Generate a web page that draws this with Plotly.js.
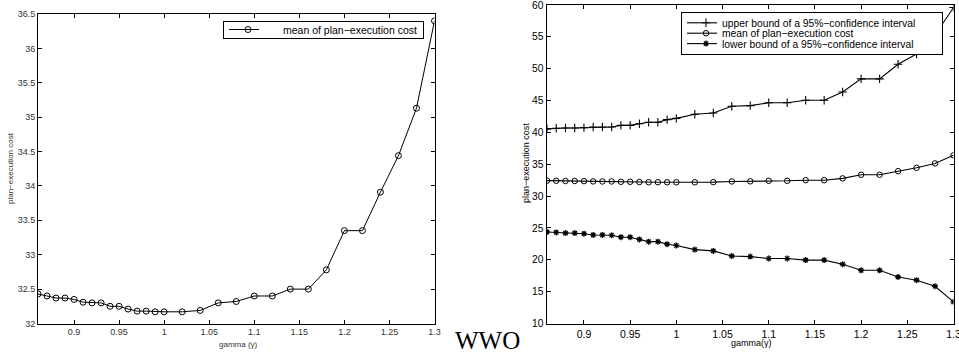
<!DOCTYPE html>
<html>
<head>
<meta charset="utf-8">
<script src="https://cdn.plot.ly/plotly-3.0.1.min.js"></script>
<style>
  html, body { margin: 0; padding: 0; background: #fff; }
  #chart { width: 959px; height: 354px; }
</style>
</head>
<body>
<div id="chart"></div>
<script>
// ---- data ----
const gamma = [0.86, 0.87, 0.88, 0.89, 0.90, 0.91, 0.92, 0.93, 0.94, 0.95, 0.96, 0.97, 0.98, 0.99, 1.00,
               1.02, 1.04, 1.06, 1.08, 1.10, 1.12, 1.14, 1.16, 1.18, 1.20, 1.22, 1.24, 1.26, 1.28, 1.30];
const meanCost = [32.43, 32.40, 32.37, 32.37, 32.35, 32.31, 32.30, 32.30, 32.25, 32.25, 32.21, 32.18, 32.18, 32.17, 32.17,
                  32.17, 32.19, 32.30, 32.32, 32.40, 32.40, 32.50, 32.50, 32.78, 33.35, 33.35, 33.91, 34.44, 35.13, 36.40];
const upperBound = [40.55, 40.65, 40.70, 40.70, 40.75, 40.85, 40.85, 40.85, 41.10, 41.10, 41.35, 41.60, 41.60, 42.00, 42.20,
                    42.85, 43.05, 44.10, 44.20, 44.65, 44.65, 45.05, 45.05, 46.35, 48.40, 48.40, 50.70, 52.30, 55.30, 59.60];
const lowerBound = [24.37, 24.30, 24.20, 24.20, 24.10, 23.90, 23.90, 23.85, 23.55, 23.55, 23.20, 22.85, 22.85, 22.45, 22.25,
                    21.60, 21.40, 20.60, 20.50, 20.20, 20.20, 19.95, 19.95, 19.30, 18.35, 18.35, 17.30, 16.80, 15.85, 13.40];
const xTickVals = [0.9, 0.95, 1, 1.05, 1.1, 1.15, 1.2, 1.25, 1.3];
const xTickText = ["0.9", "0.95", "1", "1.05", "1.1", "1.15", "1.2", "1.25", "1.3"];
const yLeftTickVals = [32, 32.5, 33, 33.5, 34, 34.5, 35, 35.5, 36, 36.5];
const yLeftTickText = ["32", "32.5", "33", "33.5", "34", "34.5", "35", "35.5", "36", "36.5"];
const yRightTickVals = [10, 15, 20, 25, 30, 35, 40, 45, 50, 55, 60];
const yRightTickText = ["10", "15", "20", "25", "30", "35", "40", "45", "50", "55", "60"];
const labelMean = "mean of plan\u2212execution cost";
const labelUpper = "upper bound of a 95%\u2212confidence interval";
const labelLower = "lower bound of a 95%\u2212confidence interval";
const yTitle = "plan\u2212execution cost";
const xTitleLeft = "gamma (\u03b3)";
const xTitleRight = "gamma(\u03b3)";
const centerText = "WWO";

// ---- layout helpers ----
const W = 959, H = 354;
const px = v => v / W;
const py = v => (H - v) / H;
const FONT = '"Liberation Sans", Arial, Helvetica, sans-serif';

const traces = [
  {
    x: gamma, y: meanCost, xaxis: 'x', yaxis: 'y', name: labelMean,
    mode: 'lines+markers', legend: 'legend',
    line: { color: '#000', width: 1 },
    marker: { symbol: 'circle-open', size: 6, color: '#000', line: { color: '#000', width: 1 } }
  },
  {
    x: gamma, y: upperBound, xaxis: 'x2', yaxis: 'y2', name: labelUpper,
    mode: 'lines+markers', legend: 'legend2',
    line: { color: '#000', width: 1.1 },
    marker: { symbol: 'cross-thin-open', size: 6, color: '#000', line: { color: '#000', width: 1.1 } }
  },
  {
    x: gamma, y: meanCost, xaxis: 'x2', yaxis: 'y2', name: labelMean,
    mode: 'lines+markers', legend: 'legend2',
    line: { color: '#000', width: 1.1 },
    marker: { symbol: 'circle-open', size: 5.5, color: '#000', line: { color: '#000', width: 1 } }
  },
  {
    x: gamma, y: lowerBound, xaxis: 'x2', yaxis: 'y2', name: labelLower,
    mode: 'lines+markers', legend: 'legend2',
    line: { color: '#000', width: 1.1 },
    marker: { symbol: 'asterisk-open', size: 5, color: '#000', line: { color: '#000', width: 1.3 } }
  }
];

const axisCommon = {
  showgrid: false, zeroline: false, showline: true, linecolor: '#000',
  mirror: 'ticks', ticks: 'inside', tickcolor: '#000', ticklen: 4,
  ticklabeloverflow: 'allow'
};

const layout = {
  width: W, height: H,
  margin: { l: 0, r: 0, t: 0, b: 0, pad: 0 },
  paper_bgcolor: '#fff', plot_bgcolor: '#fff',
  font: { family: FONT, color: '#000' },
  showlegend: true,
  xaxis: Object.assign({}, axisCommon, {
    domain: [px(38), px(434.5)], range: [0.86, 1.3], anchor: 'y',
    tickvals: xTickVals, ticktext: xTickText, linewidth: 1, tickwidth: 1,
    tickfont: { size: 9, color: '#333', family: FONT }
  }),
  yaxis: Object.assign({}, axisCommon, {
    domain: [py(323.5), py(14)], range: [32, 36.5], anchor: 'x',
    tickvals: yLeftTickVals, ticktext: yLeftTickText, linewidth: 1, tickwidth: 1,
    tickfont: { size: 9, color: '#333', family: FONT }
  }),
  xaxis2: Object.assign({}, axisCommon, {
    domain: [px(547), px(953.5)], range: [0.86, 1.3], anchor: 'y2',
    tickvals: xTickVals, ticktext: xTickText, linewidth: 1.4, tickwidth: 1,
    tickfont: { size: 10.5, color: '#000', family: FONT }
  }),
  yaxis2: Object.assign({}, axisCommon, {
    domain: [py(323.5), py(5)], range: [10, 60], anchor: 'x2',
    tickvals: yRightTickVals, ticktext: yRightTickText, linewidth: 1.4, tickwidth: 1,
    tickfont: { size: 10.3, color: '#000', family: FONT }
  }),
  legend: {
    x: px(424), y: py(21), xanchor: 'right', yanchor: 'top',
    bgcolor: '#fff', bordercolor: '#000', borderwidth: 1,
    font: { size: 10.5, family: FONT, color: '#000' },
    tracegroupgap: 0
  },
  legend2: {
    x: px(943), y: py(12), xanchor: 'right', yanchor: 'top',
    bgcolor: '#fff', bordercolor: '#000', borderwidth: 1,
    font: { size: 10.3, family: FONT, color: '#000' },
    tracegroupgap: 0
  },
  annotations: [
    { text: yTitle, xref: 'paper', yref: 'paper', x: px(11), y: py(168), textangle: -90,
      showarrow: false, xanchor: 'center', yanchor: 'middle', font: { size: 8, family: FONT, color: '#333' } },
    { text: xTitleLeft, xref: 'paper', yref: 'paper', x: px(238), y: py(344),
      showarrow: false, xanchor: 'center', yanchor: 'middle', font: { size: 8, family: FONT, color: '#333' } },
    { text: yTitle, xref: 'paper', yref: 'paper', x: px(526), y: py(163), textangle: -90,
      showarrow: false, xanchor: 'center', yanchor: 'middle', font: { size: 9, family: FONT, color: '#000' } },
    { text: xTitleRight, xref: 'paper', yref: 'paper', x: px(751), y: py(343),
      showarrow: false, xanchor: 'center', yanchor: 'middle', font: { size: 9, family: FONT, color: '#000' } },
    { text: centerText, xref: 'paper', yref: 'paper', x: px(487), y: py(340),
      showarrow: false, xanchor: 'center', yanchor: 'middle',
      font: { size: 25, family: '"Liberation Serif", "Times New Roman", serif', color: '#000' } }
  ]
};

// Compact the legend boxes (MATLAB-style tight rows, wider symbol-to-text gap)
function parseTranslate(s) {
  const m = /translate\(\s*([-\d.e]+)[ ,]+([-\d.e]+)\s*\)/.exec(s || '');
  return m ? { x: parseFloat(m[1]), y: parseFloat(m[2]) } : { x: 0, y: 0 };
}
function tightenLegend(cls, opts) {
  const g = document.querySelector('#chart g.' + cls);
  if (!g) return;
  const bg = g.querySelector('rect.bg');
  if (!bg) return;
  const bw = 1;
  const items = Array.from(g.querySelectorAll('g.traces'));
  items.forEach((it, i) => {
    const t = parseTranslate(it.getAttribute('transform'));
    it.setAttribute('transform', 'translate(' + t.x + ',' + (bw + opts.padTop + opts.spacing * (i + 0.5)) + ')');
    const txt = it.querySelector('text.legendtext');
    if (txt) txt.setAttribute('x', (parseFloat(txt.getAttribute('x')) || 0) + opts.textShift);
    const pts = it.querySelector('g.legendpoints');
    if (pts && !pts.getAttribute('transform')) pts.setAttribute('transform', 'translate(' + opts.symShift + ',0)');
  });
  const sb = g.querySelector('g.scrollbox');
  if (sb) { sb.removeAttribute('clip-path'); sb.style.clipPath = 'none'; }
  const h = 2 * bw + opts.padTop + opts.padBottom + opts.spacing * items.length;
  bg.setAttribute('height', h);
  const w = (parseFloat(bg.getAttribute('width')) || 0) + opts.textShift + opts.extraW;
  bg.setAttribute('width', w);
  const gt = parseTranslate(g.getAttribute('transform'));
  g.setAttribute('transform', 'translate(' + (gt.x - opts.textShift - opts.extraW) + ',' + gt.y + ')');
}

Plotly.newPlot('chart', traces, layout, { staticPlot: true, displayModeBar: false }).then(() => {
  tightenLegend('legend', { spacing: 12, padTop: 1.5, padBottom: 1.5, textShift: 19, symShift: 4, extraW: 0 });
  tightenLegend('legend2', { spacing: 10.4, padTop: 4.6, padBottom: 4.6, textShift: 21, symShift: 4, extraW: 0 });
});
</script>
</body>
</html>
